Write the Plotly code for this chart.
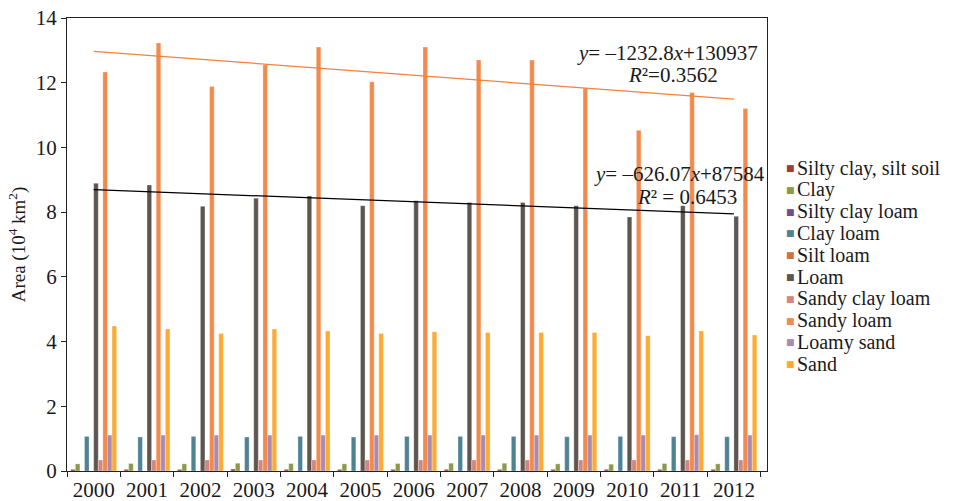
import plotly.graph_objects as go

years = [str(y) for y in range(2000, 2013)]

series_names = [
    "Silty clay, silt soil", "Clay", "Silty clay loam", "Clay loam", "Silt loam",
    "Loam", "Sandy clay loam", "Sandy loam", "Loamy sand", "Sand",
]
series_colors = [
    "#a23a3a", "#8a9a48", "#6e4f8c", "#4e8396", "#cc7442",
    "#5e5550", "#d4857f", "#f28a4c", "#a98bb2", "#ffab33",
]

# Area per soil texture class, 10^4 km²
silty_clay = [0.05, 0.05, 0.05, 0.06, 0.05, 0.05, 0.05, 0.05, 0.05, 0.05, 0.05, 0.05, 0.05]
clay = [0.22, 0.23, 0.22, 0.24, 0.23, 0.22, 0.23, 0.24, 0.24, 0.22, 0.21, 0.23, 0.22]
silty_clay_loam = [0.0] * 13
clay_loam = [1.07, 1.05, 1.07, 1.05, 1.07, 1.05, 1.07, 1.07, 1.07, 1.06, 1.07, 1.06, 1.06]
silt_loam = [0.0] * 13
loam = [8.89, 8.84, 8.18, 8.43, 8.50, 8.20, 8.35, 8.30, 8.30, 8.20, 7.85, 8.20, 7.87]
sandy_clay_loam = [0.34, 0.34, 0.34, 0.34, 0.34, 0.34, 0.34, 0.34, 0.34, 0.34, 0.34, 0.34, 0.34]
sandy_loam = [12.33, 13.23, 11.88, 12.55, 13.10, 12.03, 13.10, 12.70, 12.70, 11.83, 10.53, 11.70, 11.20]
loamy_sand = [1.11, 1.11, 1.11, 1.11, 1.11, 1.11, 1.11, 1.11, 1.11, 1.11, 1.11, 1.12, 1.11]
sand = [4.48, 4.39, 4.25, 4.39, 4.33, 4.25, 4.30, 4.28, 4.28, 4.28, 4.18, 4.33, 4.20]

series_values = [silty_clay, clay, silty_clay_loam, clay_loam, silt_loam,
                 loam, sandy_clay_loam, sandy_loam, loamy_sand, sand]

# Linear trends (km², x = year index starting at 1)
sandy_loam_trend = (-1232.8, 130937)
loam_trend = (-626.07, 87584)

FONT = "Liberation Serif, Times New Roman, serif"

fig = go.Figure()
for name, color, vals in zip(series_names, series_colors, series_values):
    fig.add_trace(go.Bar(
        x=years, y=vals, name=name, showlegend=False,
        marker=dict(color=color, line=dict(color="rgba(255,255,255,0.6)", width=0.5)),
    ))


def trend_points(coef):
    slope, intercept = coef
    xs = [years[0], years[-1]]
    ys = [(slope * i + intercept) / 1e4 for i in (1, len(years))]
    return xs, ys


for coef, color, width in [(sandy_loam_trend, "#f4813c", 1.3), (loam_trend, "#000000", 1.3)]:
    xs, ys = trend_points(coef)
    fig.add_trace(go.Scatter(x=xs, y=ys, mode="lines", showlegend=False,
                             line=dict(color=color, width=width)))

annotations = [
    dict(x=10.75, y=12.93, text="<i>y</i>= –1232.8<i>x</i>+130937"),
    dict(x=10.85, y=12.24, text="<i>R</i>²=0.3562"),
    dict(x=10.98, y=9.18, text="<i>y</i>= –626.07<i>x</i>+87584"),
    dict(x=11.12, y=8.47, text="<i>R</i>² = 0.6453"),
]
for a in annotations:
    a.update(xref="x", yref="y", showarrow=False,
             font=dict(family=FONT, size=21, color="#1a1a1a"))

# Legend column on the right
legend_top = 168
legend_step = 21.8
for i, (name, color) in enumerate(zip(series_names, series_colors)):
    ypx = legend_top + i * legend_step
    yp = 1 - (ypx - 18) / 453
    annotations.append(dict(xref="paper", yref="paper", x=(790 - 67) / 700, y=yp,
                            text="■", showarrow=False, xanchor="center", yanchor="middle",
                            font=dict(family="DejaVu Sans", size=9, color=color)))
    annotations.append(dict(xref="paper", yref="paper", x=(795 - 67) / 700, y=yp,
                            text=name, showarrow=False, xanchor="left", yanchor="middle",
                            font=dict(family=FONT, size=20, color="#1a1a1a")))

fig.update_layout(
    width=956, height=501,
    margin=dict(l=67, r=189, t=18, b=30, autoexpand=False),
    paper_bgcolor="white", plot_bgcolor="white",
    barmode="group", bargap=0.14, bargroupgap=0,
    font=dict(family=FONT, size=20, color="#1a1a1a"),
    annotations=annotations,
    showlegend=False,
    xaxis=dict(
        type="category", tickson="boundaries", ticks="outside", ticklen=5,
        tickcolor="#222", showline=True, linecolor="#222", linewidth=1.2, mirror=True,
        showgrid=False, tickfont=dict(size=21), fixedrange=True, automargin=False,
    ),
    yaxis=dict(
        range=[0, 14], dtick=2, ticks="outside", ticklen=5, tickcolor="#222",
        showline=True, linecolor="#222", linewidth=1.2, mirror=True,
        showgrid=False, zeroline=False, tickfont=dict(size=21), automargin=False,
        title=dict(text="Area (10<sup>4</sup> km<sup>2</sup>)", font=dict(size=19), standoff=5),
    ),
)

fig.write_html("out.html")
